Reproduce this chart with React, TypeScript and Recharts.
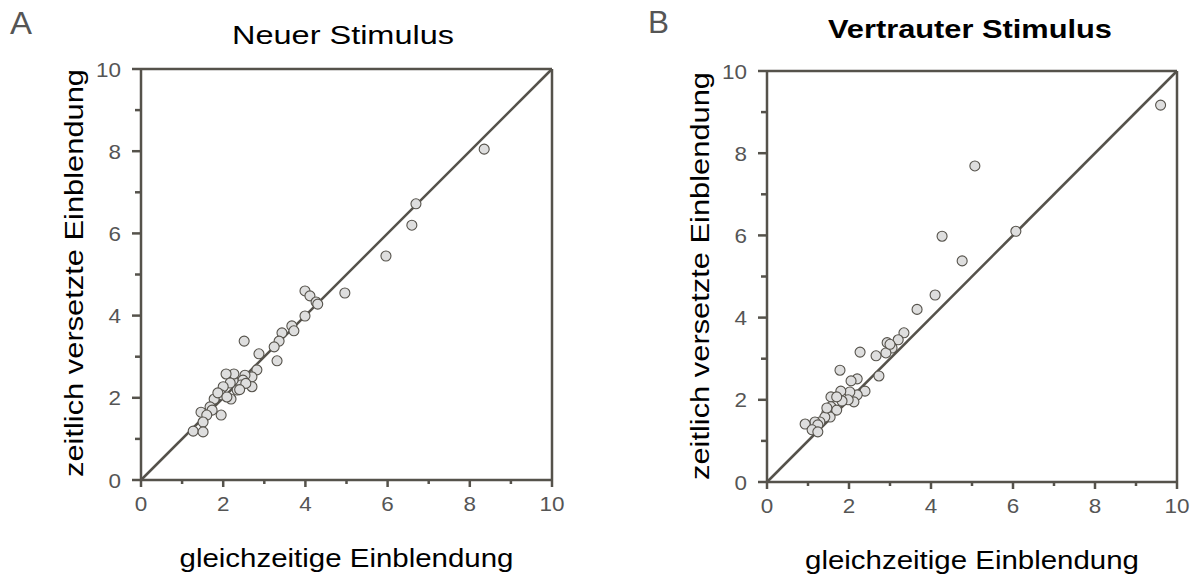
import React from "react";
import {ScatterChart, Scatter, XAxis, YAxis, ReferenceLine, Label} from "recharts";

// Panel A – Neuer Stimulus
const neuX = [8.35, 6.69, 6.59, 5.96, 4.96, 3.99, 4.11, 4.26, 4.3, 3.99, 3.67, 3.72, 3.43, 3.36, 3.24, 3.31, 2.51, 2.87, 2.82, 2.7, 2.7, 2.53, 2.48, 2.43, 2.34, 2.24, 2.26, 2.07, 2.17, 2.0, 2.19, 1.95, 1.78, 1.68, 1.73, 1.95, 1.46, 1.6, 1.51, 1.27, 1.51, 1.87, 2.09, 2.55, 2.4];
const neuY = [8.05, 6.72, 6.2, 5.45, 4.55, 4.6, 4.48, 4.33, 4.28, 3.99, 3.75, 3.63, 3.58, 3.38, 3.24, 2.9, 3.38, 3.07, 2.68, 2.51, 2.27, 2.55, 2.43, 2.31, 2.19, 2.43, 2.58, 2.58, 2.36, 2.27, 1.97, 2.07, 1.97, 1.78, 1.7, 1.58, 1.65, 1.58, 1.41, 1.19, 1.17, 2.12, 2.02, 2.35, 2.2];

// Panel B – Vertrauter Stimulus
const vertX = [9.6, 5.07, 6.07, 4.27, 4.76, 4.1, 3.66, 3.34, 3.2, 2.93, 3.05, 2.9, 2.66, 2.27, 2.73, 1.78, 2.2, 2.05, 2.39, 2.2, 2.02, 1.8, 2.12, 1.98, 1.83, 1.56, 1.7, 1.56, 1.7, 1.46, 1.54, 1.41, 1.29, 1.17, 0.93, 1.24, 1.1, 1.24, 1.46, 3.0];
const vertY = [9.17, 7.69, 6.1, 5.98, 5.38, 4.55, 4.2, 3.63, 3.46, 3.39, 3.26, 3.14, 3.07, 3.16, 2.58, 2.72, 2.51, 2.46, 2.21, 2.12, 2.19, 2.21, 1.95, 2.0, 1.97, 2.07, 2.07, 1.83, 1.75, 1.68, 1.58, 1.58, 1.46, 1.46, 1.41, 1.39, 1.27, 1.22, 1.8, 3.35];

const tickValues = [0, 1, 2, 3, 4, 5, 6, 7, 8, 9, 10];
const xTitle = "gleichzeitige Einblendung";
const yTitle = "zeitlich versetzte Einblendung";

const INK = "#55524b";
const FONT = "'Liberation Sans', Arial, sans-serif";

const toPoints = (xs: number[], ys: number[]) => xs.map((x, i) => ({x, y: ys[i]}));

// text is horizontally stretched in the original figure
const Stretch = ({x, y, children, len, size, anchor = "middle", fill = "#000", weight = "normal", rotate = 0}: any) => (
    <text
        x={x}
        y={y}
        fontSize={size}
        fontFamily={FONT}
        fontWeight={weight}
        fill={fill}
        textAnchor={anchor}
        textLength={len}
        lengthAdjust="spacingAndGlyphs"
        transform={rotate ? `rotate(${rotate}, ${x}, ${y})` : undefined}
    >
        {children}
    </text>
);

const YTick = ({x, y, payload}: any) => {
    const v = payload.value;
    const major = v % 2 === 0;
    return (
        <g>
            <line x1={x} y1={y} x2={x - (major ? 9 : 6)} y2={y} stroke={INK} strokeWidth={2.5}/>
            {major && (
                <Stretch x={x - 20} y={y + 7.5} size={21} anchor="end" fill="#555" len={String(v).length * 12.5}>
                    {v}
                </Stretch>
            )}
        </g>
    );
};

const XTick = ({x, y, payload}: any) => {
    const v = payload.value;
    const major = v % 2 === 0;
    return (
        <g>
            <line x1={x} y1={y} x2={x} y2={y + (major ? 7 : 4)} stroke={INK} strokeWidth={2.5}/>
            {major && (
                <Stretch x={x} y={y + 31} size={21} fill="#555" len={String(v).length * 12.5}>
                    {v}
                </Stretch>
            )}
        </g>
    );
};

const Dot = (props: any) => (
    <circle cx={props.cx} cy={props.cy} r={5} fill="#dedede" stroke={INK} strokeWidth={1.1}/>
);

interface PanelProps {
    points: {x: number, y: number}[]
    axisWidth: number
    axisHeight: number
    top: number
    right: number
    yLabelCenter: number
}

const Panel = ({points, axisWidth, axisHeight, top, right, yLabelCenter}: PanelProps) => (
    <ScatterChart width={597} height={575} margin={{top, right, left: 0, bottom: 0}}>
        <XAxis
            type="number"
            dataKey="x"
            domain={[0, 10]}
            ticks={tickValues}
            interval={0}
            height={axisHeight}
            tickSize={0}
            tickMargin={0}
            tickLine={false}
            axisLine={{stroke: INK, strokeWidth: 2.5}}
            tick={<XTick/>}
        >
            <Label
                content={({viewBox}: any) => (
                    <Stretch x={viewBox.x + viewBox.width / 2} y={viewBox.y + 87} size={25} len={334}>
                        {xTitle}
                    </Stretch>
                )}
            />
        </XAxis>
        <YAxis
            type="number"
            dataKey="y"
            domain={[0, 10]}
            ticks={tickValues}
            interval={0}
            width={axisWidth}
            tickSize={0}
            tickMargin={0}
            tickLine={false}
            axisLine={{stroke: INK, strokeWidth: 2.5}}
            tick={<YTick/>}
        >
            <Label
                content={({viewBox}: any) => (
                    <Stretch x={viewBox.x + viewBox.width - 58} y={yLabelCenter} size={25} len={408} rotate={-90}>
                        {yTitle}
                    </Stretch>
                )}
            />
        </YAxis>
        <ReferenceLine y={10} stroke={INK} strokeWidth={2.5}/>
        <ReferenceLine x={10} stroke={INK} strokeWidth={2.5}/>
        <ReferenceLine segment={[{x: 0, y: 0}, {x: 10, y: 10}]} stroke={INK} strokeWidth={2.5}/>
        <Scatter data={points} shape={<Dot/>} isAnimationActive={false}/>
    </ScatterChart>
);

const App = () => (
    <div style={{position: "absolute", left: 0, top: 0, width: 1194, height: 575, background: "#fff"}}>
        <div style={{position: "absolute", left: 0, top: 0}}>
            <Panel points={toPoints(neuX, neuY)} axisWidth={141} axisHeight={95} top={69} right={45} yLabelCenter={273}/>
        </div>
        <div style={{position: "absolute", left: 597, top: 0}}>
            <Panel points={toPoints(vertX, vertY)} axisWidth={170} axisHeight={93} top={71} right={17} yLabelCenter={276}/>
        </div>
        <svg width={1194} height={575} style={{position: "absolute", left: 0, top: 0, pointerEvents: "none"}}>
            <Stretch x={10} y={34} size={31} anchor="start" fill="#555" len={22}>A</Stretch>
            <Stretch x={343} y={44} size={26} len={222}>Neuer Stimulus</Stretch>
            <Stretch x={970} y={38} size={25} weight="bold" len={284}>Vertrauter Stimulus</Stretch>
            <Stretch x={648} y={33} size={31} anchor="start" fill="#555" len={21}>B</Stretch>
        </svg>
    </div>
);

export default App;
